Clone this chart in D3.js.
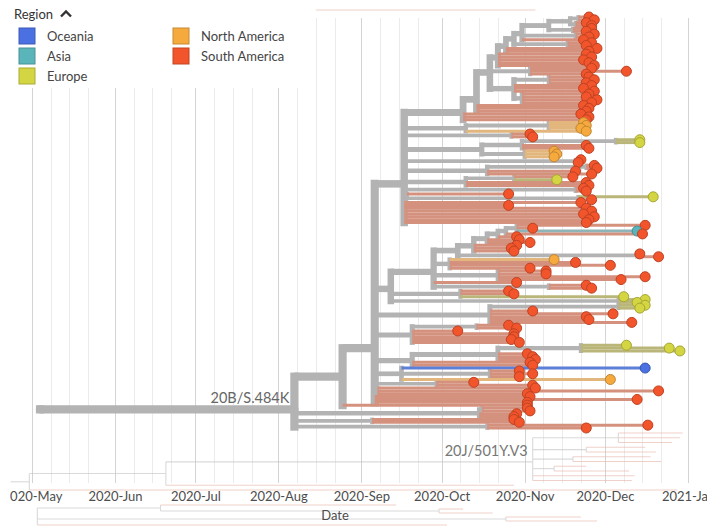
<!DOCTYPE html>
<html>
<head>
<meta charset="utf-8">
<script src="https://cdn.jsdelivr.net/npm/d3@7"></script>
<style>
  body { margin: 0; background: #fff; }
  svg { display: block; font-family: Lato, "Open Sans", "DejaVu Sans", sans-serif; }
</style>
</head>
<body>
<svg id="chart" width="707" height="529"></svg>
<script>
// ---- Region categories and colours ----
const regions      = ["Oceania", "Asia", "Europe", "North America", "South America"];
const regionCodes  = ["O", "A", "E", "N", "S"];
const regionColors = ["#4A70E1", "#5AB5BA", "#D4D542", "#F6AA3E", "#F2552C"];
const branchColors = ["#5C7FD8", "#8FB4B7", "#BAB679", "#E2B67C", "#D4917E"];
const internalColor = "#B3B3B3";

// ---- Time axis tick labels ----
const tickLabels = ["2020-May", "2020-Jun", "2020-Jul", "2020-Aug", "2020-Sep",
                    "2020-Oct", "2020-Nov", "2020-Dec", "2021-Jan"];
const minorTickDays = [8, 15, 22];

// ---- Tree data (newick-like: region:MM-DD for tips, (...){label}:MM-DD for nodes; year 2020) ----
const ladderTop = "((((((S:11-25,S:11-27):11-21,(S:11-24,S:11-26):11-20):11-18,(S:11-26,S:11-24):11-19):11-10,(S:11-27,S:11-25):11-20,S:11-23):10-31,(S:11-26,S:11-24):11-17):10-28,S:11-28,S:11-25):10-25";
const cladeT = `((((${ladderTop},S:11-24,S:11-26,S:11-23,S:11-25,S:11-27):10-22,(S:11-26,S:12-09,S:11-24):11-03,((S:11-25,S:11-27,S:11-24):11-10,S:11-26,S:11-23,S:11-27,(S:11-25,S:11-24,S:11-28,S:11-26):10-31):10-28):10-19,S:11-23,S:11-25,S:11-24):10-14,S:11-22,S:11-25,S:11-24):10-09`;
const cladeU = `(${cladeT},((N:11-23,N:11-24,N:11-22):11-10,N:11-24):10-10,(S:11-03,S:11-04):10-27,(((E:12-14,E:12-14):12-05,S:11-24,S:11-25):10-31,(N:11-12,N:11-13,N:11-12):11-01):10-16,(S:11-22,S:11-21):11-20,((S:11-27,S:11-28):11-24,S:11-20,S:11-26):10-18,((S:11-19,E:11-13):10-28,S:11-24,S:11-25):10-10,(S:11-23,S:11-24):11-20,(S:10-26,(E:12-19,S:11-26):11-21):09-18,S:11-22,S:10-26,S:11-24,S:11-26,S:11-23,S:11-27,S:11-25,S:11-24):09-17`;
const ladderL = "((((((S:12-16,S:11-04,A:12-13):10-29,S:12-15):10-25,S:10-29):10-22,S:10-30,S:11-03):10-18,S:10-29,S:10-27,S:10-28):10-13,(S:12-14,S:12-21):12-13):10-07";
const cladeL = `((${ladderL},(N:11-12,S:11-20,S:12-03,S:11-03):10-04,(S:11-09,S:11-09,S:12-16,S:12-07):10-22,S:10-29,(S:11-24,S:11-26):11-10):09-28,(S:10-26,S:10-28,E:12-08):10-08,(E:12-16,E:12-13):12-06):09-12`;
const cladeM = "((E:12-16,E:12-14):12-06,S:11-04,S:12-04,S:11-24,S:11-25,S:12-11):10-19";
const cladeP = "((S:10-26,S:10-29):10-14,S:10-07,S:10-28,S:10-28,S:10-27,S:10-30):09-20";
const cladeQ = "(((E:12-09,E:12-25,E:12-29):11-22,S:11-02,S:11-04,S:11-05):10-22,S:11-03,S:11-04):09-20";
const cladeR = "(O:12-16,(S:10-30,S:11-04,S:10-30):10-19,N:12-03):09-16";
const cladeV = "(S:10-13,S:11-04):09-29";
const cladeW = "(S:11-05,S:12-21,S:11-02):09-07";
const cladeC = `(${cladeU},${cladeL},${cladeM},${cladeP},${cladeQ},${cladeR},${cladeV},${cladeW},S:11-03,S:12-13,S:11-02):09-06`;
const cladeA = `((${cladeC},S:11-02):08-25,((S:11-02,S:11-03):10-16,S:10-29,S:10-28):10-15,(S:10-28,S:10-30):09-05,(S:12-17,S:11-24):10-18){20B/S.484K}:08-07`;
const mainTree = `(${cladeA}):05-04`;

// Neighbouring lineages, shown faded behind the focus clade
const ghostTree  = "(((((S:12-30,S:12-29,S:12-26):12-06,(S:12-16,S:12-20):11-24,(S:12-18,S:12-22):11-19,(S:11-24,S:12-10):11-12,S:12-12,S:12-11){20J/501Y.V3}:11-04,S:10-28):06-20,S:12-28):04-30):04-23";
const ghostBelow = "((S:09-14,(S:10-09,S:10-20):09-30):06-18,(S:11-22,S:11-28):10-25,S:10-03):05-03";
const ghostAbove = "(S:11-05):08-15";

// ---- Parsing ----
function parseTree(s) {
  let i = 0;
  function node() {
    const n = { children: [] };
    if (s[i] === "(") {
      i++;
      n.children.push(node());
      while (s[i] === ",") { i++; n.children.push(node()); }
      i++; // closing paren
      if (s[i] === "{") { const j = s.indexOf("}", i); n.label = s.slice(i + 1, j); i = j + 1; }
    }
    if (/[A-Z]/.test(s[i])) { n.region = s[i]; i++; }
    i++; // ':'
    n.date = s.slice(i, i + 5); i += 5;
    return n;
  }
  return node();
}
const parseDay = md => new Date(2020, +md.slice(0, 2) - 1, +md.slice(3, 5));
const parseTick = d3.timeParse("%Y-%b");

// ---- Scales ----
const width = 707, height = 529;
const x = d3.scaleTime()
  .domain([parseTick(tickLabels[0]), parseTick(tickLabels[tickLabels.length - 1])])
  .range([32, 688]);
const gridTop = 18, gridBottom = 483;

function layoutTree(str, y0, y1) {
  const root = d3.hierarchy(parseTree(str), d => d.children.length ? d.children : null);
  const leaves = root.leaves();
  const ys = d3.scaleLinear().domain([0, Math.max(1, leaves.length - 1)]).range([y0, y1]);
  leaves.forEach((d, i) => { d.py = ys(i); });
  root.eachAfter(d => { if (d.children) d.py = d3.mean(d.children, c => c.py); });
  root.each(d => {
    d.px = x(parseDay(d.data.date));
    d.w = 3 + 1.05 * Math.log(d.leaves().length);
  });
  return root;
}
const regionIndex = code => regionCodes.indexOf(code);

const svg = d3.select("#chart");
const defs = svg.append("defs");
defs.append("clipPath").attr("id", "axisClip")
  .append("rect").attr("x", 10).attr("y", 0).attr("width", width).attr("height", height);

// ---- Grid ----
const majorDates = tickLabels.map(parseTick);
const minorDates = d3.timeDay.range(x.domain()[0], x.domain()[1])
  .filter(d => minorTickDays.includes(d.getDate()));
const grid = svg.append("g");
grid.selectAll("line.minor").data(minorDates).join("line")
  .attr("class", "minor")
  .attr("x1", d => Math.round(x(d)) + 0.5).attr("x2", d => Math.round(x(d)) + 0.5)
  .attr("y1", gridTop).attr("y2", gridBottom)
  .attr("stroke", "#ebebeb").attr("stroke-width", 1);
grid.selectAll("line.major").data(majorDates).join("line")
  .attr("class", "major")
  .attr("x1", d => Math.round(x(d)) + 0.5).attr("x2", d => Math.round(x(d)) + 0.5)
  .attr("y1", gridTop).attr("y2", gridBottom)
  .attr("stroke", "#d4d4d4").attr("stroke-width", 1);

// ---- Faded neighbouring lineages ----
function drawGhost(tree) {
  const g = svg.append("g").attr("opacity", 0.6).attr("fill", "none");
  g.selectAll("path.h").data(tree.descendants().filter(d => d.parent)).join("path")
    .attr("d", d => `M${d.parent.px},${d.py}H${d.px}`)
    .attr("stroke", d => d.children ? "#c2c2c2" : "#e6b4a6")
    .attr("stroke-width", 1.1);
  g.selectAll("path.v").data(tree.descendants().filter(d => d.children && d.children.length > 1)).join("path")
    .attr("d", d => `M${d.px},${d.children[0].py}V${d.children[d.children.length - 1].py}`)
    .attr("stroke", "#c2c2c2").attr("stroke-width", 1.1);
}
const ghost = layoutTree(ghostTree, 433, 490);
drawGhost(ghost);
drawGhost(layoutTree(ghostBelow, 505, 525));
drawGhost(layoutTree(ghostAbove, 10, 10));

// ---- Main tree ----
const root = layoutTree(mainTree, 17, 428);
const nodes = root.descendants();
const internal = nodes.filter(d => d.children);
const tips = root.leaves();
const gT = svg.append("g").attr("fill", "none");

gT.selectAll("path.stem").data(internal.filter(d => d.parent)).join("path")
  .attr("class", "stem")
  .attr("d", d => `M${d.parent.px},${d.py}H${d.px}`)
  .attr("stroke", internalColor)
  .attr("stroke-width", d => d.w)
  .attr("stroke-linecap", d => d.parent === root ? "round" : "butt");
gT.selectAll("path.bar").data(internal).join("path")
  .attr("class", "bar")
  .attr("d", d => `M${d.px},${d.children[0].py}V${d.children[d.children.length - 1].py}`)
  .attr("stroke", internalColor)
  .attr("stroke-width", d => d.w)
  .attr("stroke-linecap", "square");
gT.selectAll("path.term").data(tips).join("path")
  .attr("class", "term")
  .attr("d", d => `M${d.parent.px},${d.py}H${d.px}`)
  .attr("stroke", d => branchColors[regionIndex(d.data.region)])
  .attr("stroke-width", d => d.w);

svg.append("g").selectAll("circle").data(tips).join("circle")
  .attr("cx", d => d.px).attr("cy", d => d.py).attr("r", 5)
  .attr("fill", d => regionColors[regionIndex(d.data.region)])
  .attr("stroke", d => d3.color(regionColors[regionIndex(d.data.region)]).darker(0.7))
  .attr("stroke-width", 1);

// ---- Clade labels ----
const labelled = nodes.filter(d => d.data.label).map(d => ({ d, ghost: false }))
  .concat(ghost.descendants().filter(d => d.data.label).map(d => ({ d, ghost: true })));
svg.append("g").selectAll("text").data(labelled).join("text")
  .attr("x", o => o.d.px - 5).attr("y", o => o.d.py - 6)
  .attr("text-anchor", "end")
  .attr("font-size", 14.5)
  .attr("fill", o => o.ghost ? "#777" : "#666")
  .text(o => o.d.data.label);

// ---- Axis ----
const axis = d3.axisBottom(x)
  .tickValues(majorDates)
  .tickFormat((d, i) => tickLabels[i])
  .tickSize(0).tickPadding(9);
const gA = svg.append("g").attr("clip-path", "url(#axisClip)")
  .append("g").attr("transform", `translate(0,${gridBottom})`).call(axis);
gA.select(".domain").remove();
gA.selectAll("text").attr("font-size", 13).attr("fill", "#4d4d4d")
  .attr("font-family", "Lato, 'Open Sans', sans-serif");
svg.append("text")
  .attr("x", 335).attr("y", 520).attr("text-anchor", "middle")
  .attr("font-size", 13).attr("fill", "#4d4d4d").text("Date");

// ---- Legend ----
const legend = svg.append("g");
legend.append("rect").attr("x", 0).attr("y", 0).attr("width", 300).attr("height", 88).attr("fill", "#fff");
legend.append("text").attr("x", 14).attr("y", 19).attr("font-size", 13).attr("fill", "#333").text("Region");
legend.append("path").attr("d", "M61,16.5L66,11.5L71,16.5")
  .attr("fill", "none").attr("stroke", "#333").attr("stroke-width", 2.4);
const items = legend.selectAll("g.item").data(regions).join("g")
  .attr("class", "item")
  .attr("transform", (d, i) => `translate(${i < 3 ? 19 : 173},${28 + (i % 3) * 20})`);
items.append("rect").attr("width", 16).attr("height", 16)
  .attr("fill", (d, i) => regionColors[i])
  .attr("stroke", (d, i) => d3.color(regionColors[i]).darker(0.6)).attr("stroke-width", 1);
items.append("text").attr("x", 28).attr("y", 12.5)
  .attr("font-size", 13).attr("fill", "#444").text(d => d);
</script>
</body>
</html>
